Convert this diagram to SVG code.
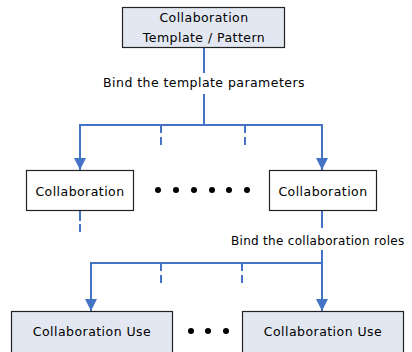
<svg xmlns="http://www.w3.org/2000/svg" width="412" height="352" viewBox="0 0 412 352">
<defs>
<style>
.box{stroke:#222;stroke-width:1.2}
.fill{fill:#E2E7F1}
.white{fill:#fff}
.t{font-family:"DejaVu Sans",sans-serif;font-size:12.5px;letter-spacing:0.45px;fill:#000}
.c{text-anchor:middle}
.ln{fill:none;stroke:#4472C4;stroke-width:2}
.dash{fill:none;stroke:#4472C4;stroke-width:2;stroke-dasharray:8 4}
.dot{fill:#000}
</style>
<marker id="arr" viewBox="0 0 12 12" refX="12" refY="6" markerWidth="12" markerHeight="12" markerUnits="userSpaceOnUse" orient="auto">
<path d="M0,0 L12,6 L0,12 Z" fill="#4472C4"/>
</marker>
</defs>
<rect width="412" height="352" fill="#fff"/>
<g id="connectors">
<line class="ln" x1="204" y1="48" x2="204" y2="73"/>
<line class="ln" x1="204" y1="94" x2="204" y2="125"/>
<polyline class="ln" points="80,125 322,125"/>
<line class="ln" x1="80" y1="124" x2="80" y2="170" marker-end="url(#arr)"/>
<line class="ln" x1="322" y1="124" x2="322" y2="170" marker-end="url(#arr)"/>
<line class="dash" x1="161" y1="125" x2="161" y2="148"/>
<line class="dash" x1="245" y1="125" x2="245" y2="148"/>
<line class="dash" x1="80" y1="211" x2="80" y2="232" style="stroke-dasharray:10 3"/>
<line class="ln" x1="322" y1="211" x2="322" y2="228"/>
<line class="ln" x1="322" y1="250" x2="322" y2="263"/>
<polyline class="ln" points="91,263 322,263"/>
<line class="ln" x1="91" y1="262" x2="91" y2="311" marker-end="url(#arr)"/>
<line class="ln" x1="322" y1="262" x2="322" y2="311" marker-end="url(#arr)"/>
<line class="dash" x1="161" y1="263" x2="161" y2="283"/>
<line class="dash" x1="242" y1="263" x2="242" y2="283"/>
<text class="t c" x="204" y="87">Bind the template parameters</text>
<text class="t" x="231" y="245" style="font-size:12px;letter-spacing:0.3px">Bind the collaboration roles</text>
</g>
<g id="template">
<rect class="box fill" x="122.5" y="7.5" width="162" height="40"/>
<text class="t c" x="204" y="22">Collaboration</text>
<text class="t c" x="204" y="42">Template / Pattern</text>
</g>
<g id="collab1">
<rect class="box white" x="26.5" y="170.5" width="107" height="40"/>
<text class="t c" x="80" y="196">Collaboration</text>
</g>
<g id="collab2">
<rect class="box white" x="269.5" y="170.5" width="107" height="40"/>
<text class="t c" x="323" y="196">Collaboration</text>
</g>
<g id="dots1">
<circle class="dot" cx="158" cy="190" r="3"/>
<circle class="dot" cx="176" cy="190" r="3"/>
<circle class="dot" cx="194" cy="190" r="3"/>
<circle class="dot" cx="212" cy="190" r="3"/>
<circle class="dot" cx="229" cy="190" r="3"/>
<circle class="dot" cx="247" cy="190" r="3"/>
</g>
<g id="use1">
<rect class="box fill" x="11.5" y="311.5" width="161" height="60"/>
<text class="t c" x="92" y="336">Collaboration Use</text>
</g>
<g id="use2">
<rect class="box fill" x="242.5" y="311.5" width="161" height="60"/>
<text class="t c" x="323" y="336">Collaboration Use</text>
</g>
<g id="dots2">
<circle class="dot" cx="191" cy="331" r="3"/>
<circle class="dot" cx="208" cy="331" r="3"/>
<circle class="dot" cx="226" cy="331" r="3"/>
</g>
</svg>
